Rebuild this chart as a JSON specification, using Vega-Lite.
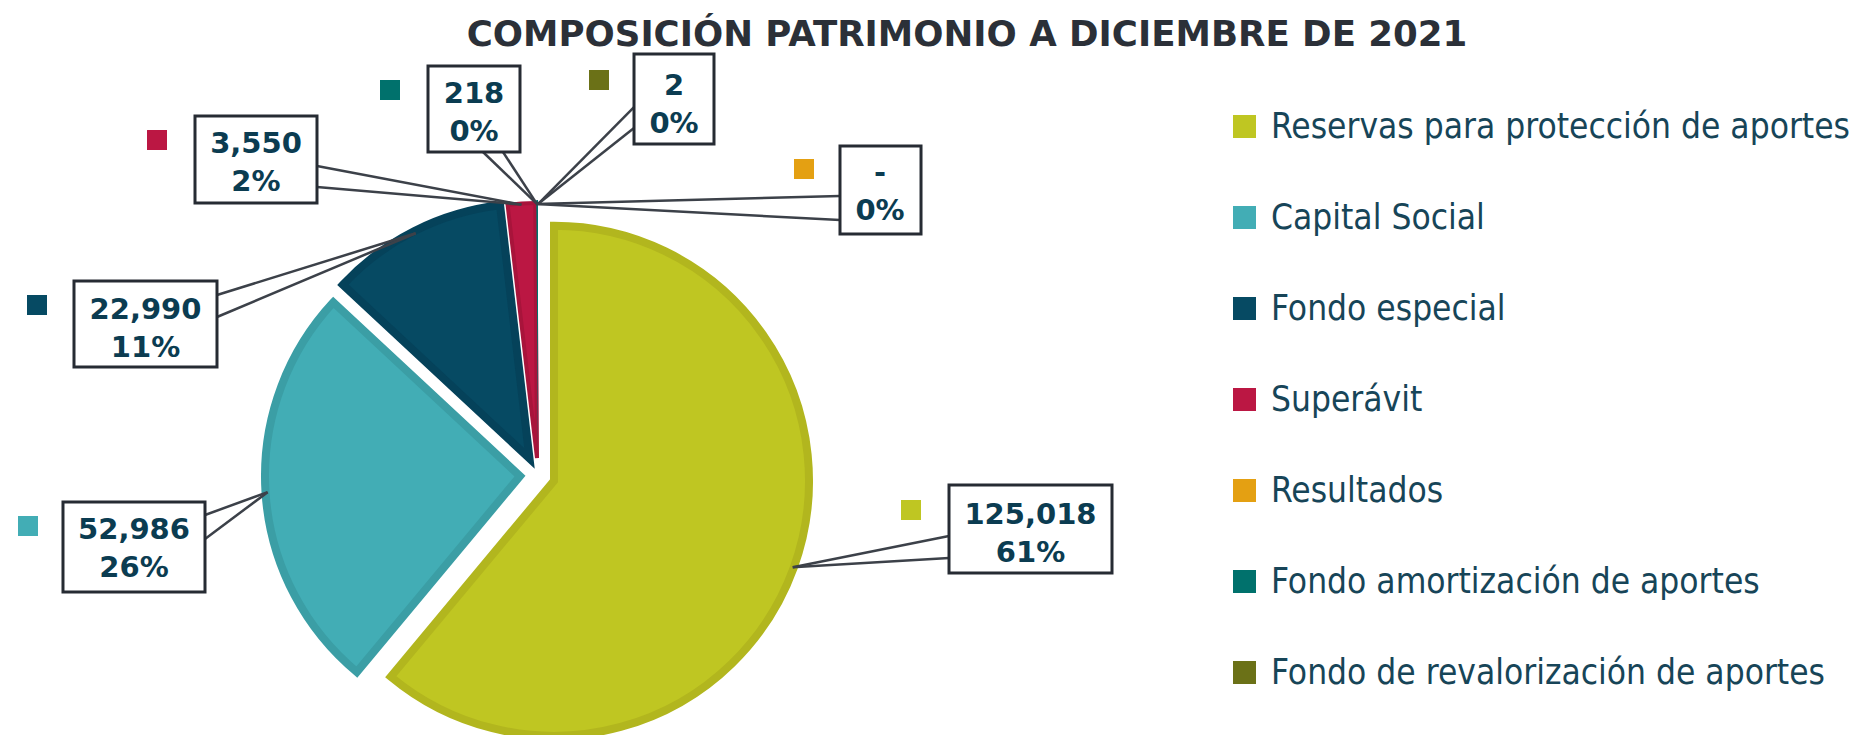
{
  "$schema": "https://vega.github.io/schema/vega-lite/v6.json",
  "width": 1076,
  "height": 520,
  "autosize": {"type": "none"},
  "padding": {"left": 0, "top": 215, "right": 784, "bottom": 0},
  "background": "white",
  "title": {
    "text": "COMPOSICIÓN PATRIMONIO A DICIEMBRE DE 2021",
    "font": "DejaVu Sans",
    "fontSize": 35.6,
    "fontWeight": "bold",
    "color": "#2b3038",
    "anchor": "middle",
    "frame": "group",
    "baseline": "alphabetic",
    "dx": 429,
    "dy": 35,
    "offset": 6
  },
  "data": {
    "values": [
      {"category": "Reservas para protección de aportes", "value": 125018},
      {"category": "Capital Social", "value": 52986},
      {"category": "Fondo especial", "value": 22990},
      {"category": "Superávit", "value": 3550},
      {"category": "Resultados", "value": 0},
      {"category": "Fondo amortización de aportes", "value": 218},
      {"category": "Fondo de revalorización de aportes", "value": 2}
    ]
  },
  "transform": [
    {"joinaggregate": [{"op": "sum", "field": "value", "as": "total"}]},
    {"window": [{"op": "sum", "field": "value", "as": "cum"}], "frame": [null, 0]},
    {"calculate": "datum.cum - datum.value", "as": "start"},
    {"calculate": "2 * PI * (datum.cum - datum.value / 2) / datum.total", "as": "mid"},
    {"calculate": "sin(datum.mid) * 1.046", "as": "ax"},
    {"calculate": "cos(datum.mid) * 1.046", "as": "ay"},
    {"calculate": "(datum.value === 0 ? '-' : format(datum.value, ',')) + '\\n' + format(datum.value / datum.total, '.0%')", "as": "label"}
  ],
  "layer": [
    {
      "transform": [{"filter": "datum.category === 'Reservas para protección de aportes'"}],
      "mark": {"type": "arc", "radius": 255, "strokeWidth": 8, "xOffset": 16, "yOffset": 5.8},
      "encoding": {
        "x": {"datum": 0, "scale": {"domain": [-2.0772, 2.0772], "nice": false, "zero": false}},
        "y": {"datum": 0, "scale": {"domain": [-1.0039, 1.0039], "nice": false, "zero": false}},
        "theta": {"field": "start", "type": "quantitative"},
        "theta2": {"field": "cum"},
        "color": {
          "field": "category", "type": "nominal",
          "scale": {
            "domain": ["Reservas para protección de aportes", "Capital Social", "Fondo especial", "Superávit", "Resultados", "Fondo amortización de aportes", "Fondo de revalorización de aportes"],
            "range": ["#bfc622", "#42adb5", "#064a63", "#bb1743", "#e4a012", "#00716c", "#6b7117"]
          },
          "legend": {
            "title": null, "orient": "none", "legendX": 1227, "legendY": -106,
            "symbolType": "square", "symbolSize": 529, "symbolStrokeWidth": 0, "symbolOpacity": 1,
            "labelFont": "DejaVu Sans Condensed", "labelFontSize": 35, "labelColor": "#174558",
            "labelOffset": 9, "labelLimit": 0, "rowPadding": 55, "padding": 0
          }
        },
        "stroke": {
          "field": "category", "type": "nominal", "legend": null,
          "scale": {
            "domain": ["Reservas para protección de aportes", "Capital Social", "Fondo especial", "Superávit", "Resultados", "Fondo amortización de aportes", "Fondo de revalorización de aportes"],
            "range": ["#b2b61e", "#3b9ea5", "#05425a", "#a8143b", "#cc8e10", "#006360", "#5e6414"]
          }
        }
      }
    },
    {
      "transform": [{"filter": "datum.category === 'Capital Social'"}],
      "mark": {"type": "arc", "radius": 255, "strokeWidth": 8, "xOffset": -18, "yOffset": 1.1},
      "encoding": {
        "x": {"datum": 0}, "y": {"datum": 0},
        "theta": {"field": "start", "type": "quantitative"},
        "theta2": {"field": "cum"},
        "color": {"field": "category", "type": "nominal"},
        "stroke": {"field": "category", "type": "nominal", "legend": null}
      }
    },
    {
      "transform": [{"filter": "datum.category === 'Fondo especial'"}],
      "mark": {"type": "arc", "radius": 255, "strokeWidth": 8, "xOffset": -8.5, "yOffset": -16.5},
      "encoding": {
        "x": {"datum": 0}, "y": {"datum": 0},
        "theta": {"field": "start", "type": "quantitative"},
        "theta2": {"field": "cum"},
        "color": {"field": "category", "type": "nominal"},
        "stroke": {"field": "category", "type": "nominal", "legend": null}
      }
    },
    {
      "transform": [{"filter": "datum.category === 'Superávit'"}],
      "mark": {"type": "arc", "radius": 255, "strokeWidth": 4, "xOffset": -1, "yOffset": -17},
      "encoding": {
        "x": {"datum": 0}, "y": {"datum": 0},
        "theta": {"field": "start", "type": "quantitative"},
        "theta2": {"field": "cum"},
        "color": {"field": "category", "type": "nominal"},
        "stroke": {"field": "category", "type": "nominal", "legend": null}
      }
    },
    {
      "transform": [{"filter": "datum.value > 0 && datum.value < 1000"}],
      "mark": {"type": "arc", "radius": 258, "xOffset": 0, "yOffset": -17},
      "encoding": {
        "x": {"datum": 0}, "y": {"datum": 0},
        "theta": {"field": "start", "type": "quantitative"},
        "theta2": {"field": "cum"},
        "color": {"field": "category", "type": "nominal"}
      }
    },
    {
      "transform": [{"filter": "datum.category === 'Reservas para protección de aportes'"}],
      "layer": [
        {"mark": {"type": "rule", "stroke": "#3c4149", "strokeWidth": 2.5}, "encoding": {"x": {"field": "ax", "type": "quantitative"}, "y": {"field": "ay", "type": "quantitative"}, "x2": {"datum": 1.5869}, "y2": {"datum": -0.2355}}},
        {"mark": {"type": "rule", "stroke": "#3c4149", "strokeWidth": 2.5}, "encoding": {"x": {"field": "ax", "type": "quantitative"}, "y": {"field": "ay", "type": "quantitative"}, "x2": {"datum": 1.5869}, "y2": {"datum": -0.3205}}},
        {"mark": {"type": "rect", "fill": "white", "stroke": "#262b33", "strokeWidth": 3}, "encoding": {"x": {"datum": 1.5869}, "x2": {"datum": 2.2162}, "y": {"datum": -0.0386}, "y2": {"datum": -0.3784}}},
        {"mark": {"type": "square", "size": 400, "opacity": 1}, "encoding": {"x": {"datum": 1.4402}, "y": {"datum": -0.1351}, "color": {"field": "category", "type": "nominal"}}},
        {"mark": {"type": "text", "font": "DejaVu Sans", "fontWeight": "bold", "fontSize": 29, "color": "#0b3c51", "align": "center", "baseline": "alphabetic", "lineBreak": "\n", "lineHeight": 38}, "encoding": {"x": {"datum": 1.9015}, "y": {"datum": -0.1892}, "text": {"field": "label", "type": "nominal"}}}
      ]
    },
    {
      "transform": [{"filter": "datum.category === 'Capital Social'"}],
      "layer": [
        {"mark": {"type": "rule", "stroke": "#3c4149", "strokeWidth": 2.5}, "encoding": {"x": {"field": "ax", "type": "quantitative"}, "y": {"field": "ay", "type": "quantitative"}, "x2": {"datum": -1.2857}, "y2": {"datum": -0.1544}}},
        {"mark": {"type": "rule", "stroke": "#3c4149", "strokeWidth": 2.5}, "encoding": {"x": {"field": "ax", "type": "quantitative"}, "y": {"field": "ay", "type": "quantitative"}, "x2": {"datum": -1.2857}, "y2": {"datum": -0.2471}}},
        {"mark": {"type": "rect", "fill": "white", "stroke": "#262b33", "strokeWidth": 3}, "encoding": {"x": {"datum": -1.8340}, "x2": {"datum": -1.2857}, "y": {"datum": -0.1042}, "y2": {"datum": -0.4517}}},
        {"mark": {"type": "square", "size": 400, "opacity": 1}, "encoding": {"x": {"datum": -1.9691}, "y": {"datum": -0.1969}, "color": {"field": "category", "type": "nominal"}}},
        {"mark": {"type": "text", "font": "DejaVu Sans", "fontWeight": "bold", "fontSize": 29, "color": "#0b3c51", "align": "center", "baseline": "alphabetic", "lineBreak": "\n", "lineHeight": 38}, "encoding": {"x": {"datum": -1.5598}, "y": {"datum": -0.2471}, "text": {"field": "label", "type": "nominal"}}}
      ]
    },
    {
      "transform": [{"filter": "datum.category === 'Fondo especial'"}],
      "layer": [
        {"mark": {"type": "rule", "stroke": "#3c4149", "strokeWidth": 2.5}, "encoding": {"x": {"field": "ax", "type": "quantitative"}, "y": {"field": "ay", "type": "quantitative"}, "x2": {"datum": -1.2394}, "y2": {"datum": 0.6950}}},
        {"mark": {"type": "rule", "stroke": "#3c4149", "strokeWidth": 2.5}, "encoding": {"x": {"field": "ax", "type": "quantitative"}, "y": {"field": "ay", "type": "quantitative"}, "x2": {"datum": -1.2394}, "y2": {"datum": 0.6100}}},
        {"mark": {"type": "rect", "fill": "white", "stroke": "#262b33", "strokeWidth": 3}, "encoding": {"x": {"datum": -1.7915}, "x2": {"datum": -1.2394}, "y": {"datum": 0.7490}, "y2": {"datum": 0.4170}}},
        {"mark": {"type": "square", "size": 400, "opacity": 1}, "encoding": {"x": {"datum": -1.9344}, "y": {"datum": 0.6564}, "color": {"field": "category", "type": "nominal"}}},
        {"mark": {"type": "text", "font": "DejaVu Sans", "fontWeight": "bold", "fontSize": 29, "color": "#0b3c51", "align": "center", "baseline": "alphabetic", "lineBreak": "\n", "lineHeight": 38}, "encoding": {"x": {"datum": -1.5154}, "y": {"datum": 0.6023}, "text": {"field": "label", "type": "nominal"}}}
      ]
    },
    {
      "transform": [{"filter": "datum.category === 'Superávit'"}],
      "layer": [
        {"mark": {"type": "rule", "stroke": "#3c4149", "strokeWidth": 2.5}, "encoding": {"x": {"field": "ax", "type": "quantitative"}, "y": {"field": "ay", "type": "quantitative"}, "x2": {"datum": -0.8533}, "y2": {"datum": 1.1931}}},
        {"mark": {"type": "rule", "stroke": "#3c4149", "strokeWidth": 2.5}, "encoding": {"x": {"field": "ax", "type": "quantitative"}, "y": {"field": "ay", "type": "quantitative"}, "x2": {"datum": -0.8533}, "y2": {"datum": 1.1120}}},
        {"mark": {"type": "rect", "fill": "white", "stroke": "#262b33", "strokeWidth": 3}, "encoding": {"x": {"datum": -1.3243}, "x2": {"datum": -0.8533}, "y": {"datum": 1.3861}, "y2": {"datum": 1.0502}}},
        {"mark": {"type": "square", "size": 400, "opacity": 1}, "encoding": {"x": {"datum": -1.4710}, "y": {"datum": 1.2934}, "color": {"field": "category", "type": "nominal"}}},
        {"mark": {"type": "text", "font": "DejaVu Sans", "fontWeight": "bold", "fontSize": 29, "color": "#0b3c51", "align": "center", "baseline": "alphabetic", "lineBreak": "\n", "lineHeight": 38}, "encoding": {"x": {"datum": -1.0888}, "y": {"datum": 1.2444}, "text": {"field": "label", "type": "nominal"}}}
      ]
    },
    {
      "transform": [{"filter": "datum.category === 'Fondo amortización de aportes'"}],
      "layer": [
        {"mark": {"type": "rule", "stroke": "#3c4149", "strokeWidth": 2.5}, "encoding": {"x": {"field": "ax", "type": "quantitative"}, "y": {"field": "ay", "type": "quantitative"}, "x2": {"datum": -0.2124}, "y2": {"datum": 1.2471}}},
        {"mark": {"type": "rule", "stroke": "#3c4149", "strokeWidth": 2.5}, "encoding": {"x": {"field": "ax", "type": "quantitative"}, "y": {"field": "ay", "type": "quantitative"}, "x2": {"datum": -0.1351}, "y2": {"datum": 1.2471}}},
        {"mark": {"type": "rect", "fill": "white", "stroke": "#262b33", "strokeWidth": 3}, "encoding": {"x": {"datum": -0.4247}, "x2": {"datum": -0.0695}, "y": {"datum": 1.5792}, "y2": {"datum": 1.2471}}},
        {"mark": {"type": "square", "size": 400, "opacity": 1}, "encoding": {"x": {"datum": -0.5714}, "y": {"datum": 1.4865}, "color": {"field": "category", "type": "nominal"}}},
        {"mark": {"type": "text", "font": "DejaVu Sans", "fontWeight": "bold", "fontSize": 29, "color": "#0b3c51", "align": "center", "baseline": "alphabetic", "lineBreak": "\n", "lineHeight": 38}, "encoding": {"x": {"datum": -0.2471}, "y": {"datum": 1.4375}, "text": {"field": "label", "type": "nominal"}}}
      ]
    },
    {
      "transform": [{"filter": "datum.category === 'Fondo de revalorización de aportes'"}],
      "layer": [
        {"mark": {"type": "rule", "stroke": "#3c4149", "strokeWidth": 2.5}, "encoding": {"x": {"field": "ax", "type": "quantitative"}, "y": {"field": "ay", "type": "quantitative"}, "x2": {"datum": 0.3707}, "y2": {"datum": 1.4208}}},
        {"mark": {"type": "rule", "stroke": "#3c4149", "strokeWidth": 2.5}, "encoding": {"x": {"field": "ax", "type": "quantitative"}, "y": {"field": "ay", "type": "quantitative"}, "x2": {"datum": 0.3707}, "y2": {"datum": 1.3398}}},
        {"mark": {"type": "rect", "fill": "white", "stroke": "#262b33", "strokeWidth": 3}, "encoding": {"x": {"datum": 0.3707}, "x2": {"datum": 0.6795}, "y": {"datum": 1.6255}, "y2": {"datum": 1.2780}}},
        {"mark": {"type": "square", "size": 400, "opacity": 1}, "encoding": {"x": {"datum": 0.2355}, "y": {"datum": 1.5251}, "color": {"field": "category", "type": "nominal"}}},
        {"mark": {"type": "text", "font": "DejaVu Sans", "fontWeight": "bold", "fontSize": 29, "color": "#0b3c51", "align": "center", "baseline": "alphabetic", "lineBreak": "\n", "lineHeight": 38}, "encoding": {"x": {"datum": 0.5251}, "y": {"datum": 1.4672}, "text": {"field": "label", "type": "nominal"}}}
      ]
    },
    {
      "transform": [{"filter": "datum.category === 'Resultados'"}],
      "layer": [
        {"mark": {"type": "rule", "stroke": "#3c4149", "strokeWidth": 2.5}, "encoding": {"x": {"field": "ax", "type": "quantitative"}, "y": {"field": "ay", "type": "quantitative"}, "x2": {"datum": 1.1660}, "y2": {"datum": 1.0772}}},
        {"mark": {"type": "rule", "stroke": "#3c4149", "strokeWidth": 2.5}, "encoding": {"x": {"field": "ax", "type": "quantitative"}, "y": {"field": "ay", "type": "quantitative"}, "x2": {"datum": 1.1660}, "y2": {"datum": 0.9846}}},
        {"mark": {"type": "rect", "fill": "white", "stroke": "#262b33", "strokeWidth": 3}, "encoding": {"x": {"datum": 1.1660}, "x2": {"datum": 1.4788}, "y": {"datum": 1.2703}, "y2": {"datum": 0.9305}}},
        {"mark": {"type": "square", "size": 400, "opacity": 1}, "encoding": {"x": {"datum": 1.0270}, "y": {"datum": 1.1815}, "color": {"field": "category", "type": "nominal"}}},
        {"mark": {"type": "text", "font": "DejaVu Sans", "fontWeight": "bold", "fontSize": 29, "color": "#0b3c51", "align": "center", "baseline": "alphabetic", "lineBreak": "\n", "lineHeight": 38}, "encoding": {"x": {"datum": 1.3205}, "y": {"datum": 1.1313}, "text": {"field": "label", "type": "nominal"}}}
      ]
    }
  ],
  "config": {
    "view": {"stroke": null},
    "axis": {"disable": true}
  }
}
